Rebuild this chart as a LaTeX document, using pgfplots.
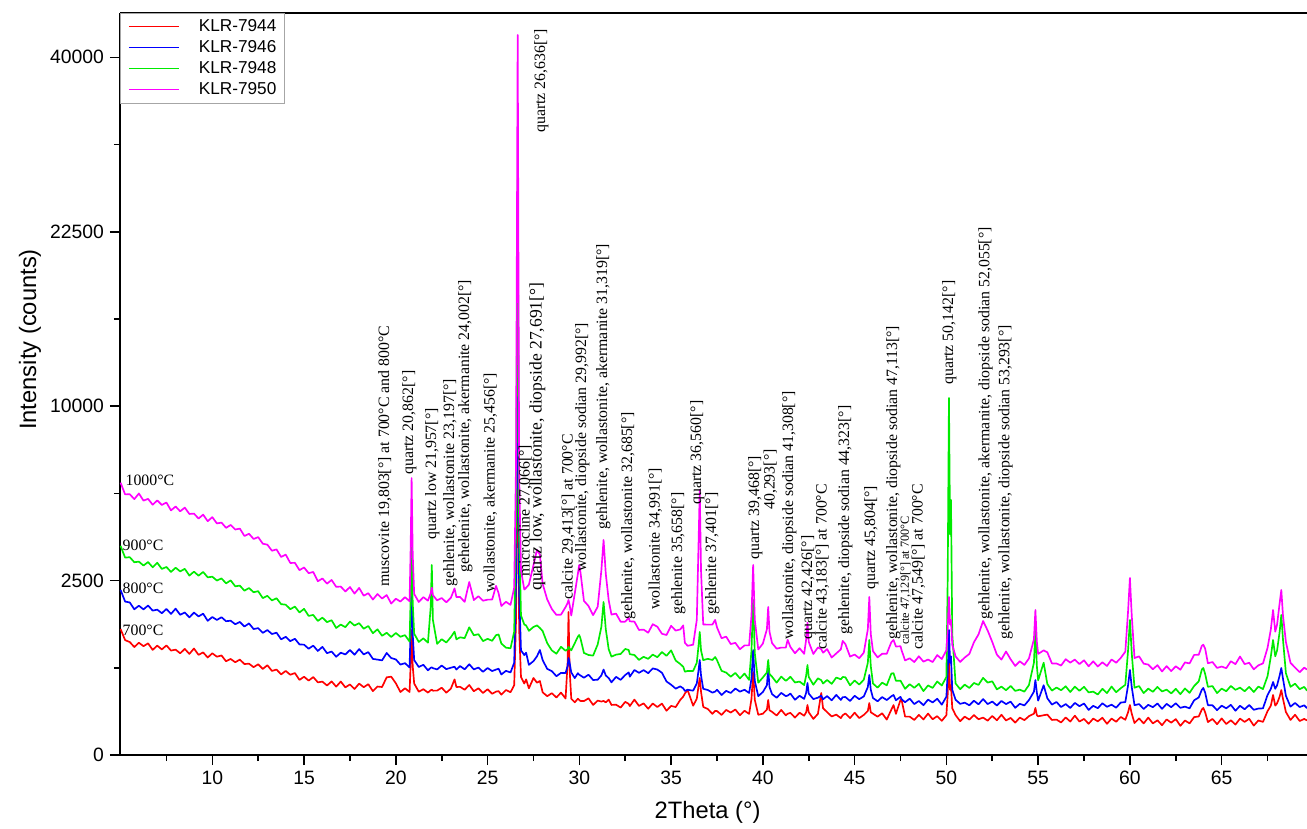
\documentclass[border=0pt]{standalone}
\usepackage{fontspec}
\setmainfont{Liberation Sans}
\newfontfamily\annfont{Liberation Serif}
\usepackage{pgfplots}
\usepackage{pgfplotstable}
\pgfplotsset{compat=1.18}
\pgfplotsset{legend image code/.code={\draw[#1, line width=0.6pt] (0mm,0mm) -- (10mm,0mm); \path (13.8mm,0mm);}}
\definecolor{xgreen}{RGB}{0,235,0}
\definecolor{xmag}{RGB}{255,0,255}

\pgfplotstableread{
x r b g m
5.00 1304 2240 3596 6095
5.25 1084 1934 3200 5580
5.50 1049 1913 3216 5590
5.75 958 1745 3054 5380
6.00 1036 1832 3072 5620
6.25 973 1742 2950 5318
6.50 1024 1836 3059 5390
6.75 908 1714 2897 5148
7.00 983 1736 3036 5325
7.25 916 1652 2845 5139
7.50 987 1752 2905 5238
7.75 896 1636 2754 4916
8.00 912 1760 2883 5075
8.25 850 1615 2770 4880
8.50 925 1670 2848 5030
8.75 839 1556 2645 4774
9.00 932 1667 2763 4789
9.25 824 1578 2643 4595
9.50 865 1641 2754 4747
9.75 781 1480 2594 4493
10.00 850 1565 2612 4649
10.25 794 1498 2501 4406
10.50 814 1560 2563 4439
10.75 722 1471 2421 4240
11.00 758 1482 2506 4349
11.25 707 1405 2338 4177
11.50 748 1455 2358 4213
11.75 680 1357 2219 3942
12.00 685 1423 2291 4022
12.25 634 1304 2177 3835
12.50 676 1323 2205 3901
12.75 609 1226 2024 3669
13.00 662 1283 2082 3636
13.25 581 1203 1964 3428
13.50 600 1229 2019 3474
13.75 534 1100 1870 3222
14.00 581 1147 1857 3300
14.25 529 1065 1747 3030
14.50 552 1110 1810 3035
14.75 464 1005 1670 2808
15.00 503 1000 1755 2890
15.25 455 928 1590 2717
15.50 499 983 1612 2753
15.75 434 890 1477 2481
16.00 442 961 1551 2561
16.25 397 852 1451 2413
16.50 445 880 1493 2518
16.75 384 793 1326 2325
17.00 443 860 1398 2331
17.25 376 831 1343 2198
17.50 409 906 1462 2318
17.75 358 826 1377 2141
18.00 419 922 1428 2294
18.25 378 832 1311 2085
18.50 412 870 1367 2151
18.75 335 759 1219 1986
19.00 385 748 1298 2129
19.25 380 736 1168 2011
19.50 496 855 1227 2102
19.75 504 772 1145 1884
20.00 423 751 1223 2007
20.25 326 672 1149 1935
20.50 366 693 1180 2047
20.75 326 630 1057 1943
20.81 700 1400 2100 3600
20.86 1284 2575 3800 6305
20.92 650 1200 1900 3300
21.00 420 740 1210 2130
21.25 329 636 1050 1924
21.50 356 669 1118 2048
21.75 320 589 1037 1957
21.90 345 625 1800 2150
21.96 350 630 2967 2300
22.02 340 620 1500 2100
22.25 341 602 1015 1965
22.50 372 658 1102 2024
22.75 319 606 1040 1916
23.00 362 626 1142 2031
23.20 470 640 1250 2280
23.30 380 600 1100 2050
23.50 382 650 1138 2052
23.75 350 603 1122 1927
24.00 403 677 1340 2460
24.25 334 602 1178 1973
24.50 366 628 1199 2072
24.75 316 569 1066 1956
25.00 356 622 1109 1983
25.25 308 579 1072 1986
25.46 330 600 1180 2350
25.60 335 612 1194 2148
25.75 299 533 1021 1824
26.00 347 582 947 1929
26.25 324 560 936 1852
26.45 400 700 1250 2300
26.55 1500 2500 4500 7000
26.64 9220 14840 27190 42600
26.72 1300 2200 4000 6500
26.82 500 900 1600 2800
27.00 420 820 1400 2250
27.10 470 860 1380 2300
27.25 365 668 1267 2384
27.50 487 724 1347 2964
27.69 430 800 1380 3454
27.85 450 906 1326 3300
28.00 323 740 1262 2407
28.25 284 609 1028 1988
28.50 314 578 899 1752
28.75 272 510 843 1613
29.00 320 554 963 1619
29.25 262 552 892 1800
29.36 700 650 920 1900
29.41 1680 773 960 1975
29.47 600 700 930 1850
29.56 260 560 900 1600
29.75 228 486 1028 2144
29.92 260 550 1150 2700
29.99 249 530 1184 2967
30.06 240 520 1120 2750
30.25 239 490 856 1952
30.50 264 530 822 1824
30.75 206 462 812 1608
31.00 243 466 1005 1806
31.20 235 520 1350 2800
31.32 240 600 1924 3800
31.44 228 520 1300 2700
31.60 252 486 917 1964
31.75 206 434 795 1620
32.00 208 502 828 1643
32.25 185 464 839 1460
32.50 232 526 924 1461
32.69 215 560 906 1550
32.75 197 504 835 1468
33.00 252 594 822 1462
33.25 198 555 743 1285
33.50 219 592 792 1292
33.75 176 550 760 1229
34.00 218 616 828 1406
34.25 189 600 786 1352
34.50 217 556 871 1208
34.75 161 444 808 1183
35.00 198 406 900 1372
35.25 189 362 733 1272
35.50 250 387 680 1296
35.66 280 365 640 1380
35.75 311 337 570 1035
35.90 347 350 580 980
36.20 200 340 580 1000
36.40 260 420 700 1500
36.50 400 600 1000 3800
36.56 487 742 1244 5772
36.63 330 520 900 2800
36.75 190 360 740 1400
37.00 174 347 760 1396
37.25 139 320 742 1398
37.40 160 330 789 1500
37.50 159 350 740 1339
37.75 132 296 582 1120
38.00 167 338 558 1152
38.25 148 316 504 1011
38.50 170 363 554 1034
38.75 130 330 482 919
39.00 161 350 545 987
39.25 139 316 463 987
39.38 260 480 900 1600
39.47 566 906 1975 2967
39.56 250 450 850 1500
39.75 133 285 430 915
40.00 140 326 494 1020
40.22 170 400 560 1300
40.29 249 622 742 1800
40.36 165 380 540 1250
40.50 153 305 504 1029
40.75 128 269 430 929
41.00 167 317 505 948
41.25 129 285 452 948
41.35 140 290 470 1090
41.50 146 310 503 959
41.75 115 251 432 851
42.00 147 288 443 937
42.25 127 259 402 841
42.36 150 320 520 1100
42.43 205 426 666 1440
42.50 150 310 500 1050
42.75 107 257 406 839
43.00 139 270 483 951
43.18 316 290 460 920
43.28 180 255 420 860
43.50 151 285 463 922
43.75 122 246 416 781
44.00 134 297 493 848
44.25 112 249 471 918
44.35 130 275 500 1070
44.50 142 276 496 1008
44.75 112 240 399 796
45.00 147 288 456 829
45.25 112 256 408 770
45.50 132 282 466 861
45.72 160 380 700 1300
45.80 222 526 1087 2052
45.88 150 350 650 1200
46.00 140 267 420 887
46.25 121 237 373 783
46.50 143 276 430 842
46.75 103 248 399 842
47.00 169 283 545 1046
47.12 205 296 550 1087
47.25 139 246 453 967
47.50 250 278 454 972
47.56 249 255 430 900
47.75 121 229 360 735
48.00 121 261 412 768
48.25 101 213 371 710
48.50 132 240 416 801
48.75 104 204 335 716
49.00 141 252 398 749
49.25 105 227 370 710
49.50 124 260 444 821
49.75 96 208 397 757
50.00 130 280 500 900
50.07 300 550 2500 1300
50.14 742 1284 10480 2052
50.20 350 700 4000 1400
50.25 400 800 5345 1500
50.32 180 350 1200 1000
50.50 131 251 421 799
50.75 94 215 356 712
51.00 121 225 407 781
51.25 103 203 369 839
51.50 131 242 426 1044
51.75 105 211 404 1195
52.00 115 257 489 1476
52.25 97 213 431 1272
52.50 125 235 446 1050
52.75 99 201 354 828
53.00 133 240 384 748
53.25 98 213 345 880
53.50 113 234 392 753
53.75 86 183 338 652
54.00 115 215 351 721
54.25 100 202 330 667
54.50 124 248 403 767
54.77 140 330 700 1100
54.85 182 462 1284 1728
54.93 130 320 650 1050
55.00 123 243 458 839
55.30 130 400 700 900
55.50 134 265 414 866
55.75 101 209 341 689
56.00 103 231 374 688
56.25 87 189 345 658
56.50 116 213 388 754
56.75 92 182 326 701
57.00 127 223 384 748
57.25 92 196 339 679
57.50 107 218 382 737
57.75 80 167 322 647
58.00 109 199 330 721
58.25 93 180 301 644
58.50 114 220 360 706
58.75 80 191 315 651
59.00 109 208 385 750
59.25 91 184 324 700
59.50 119 226 366 774
59.75 102 230 405 878
59.90 150 400 900 1700
60.00 205 594 1498 2575
60.10 140 380 850 1600
60.25 84 204 372 772
60.50 110 213 390 800
60.75 82 174 315 686
61.00 115 207 362 672
61.25 82 188 328 604
61.50 99 218 381 663
61.75 73 175 332 574
62.00 104 215 351 649
62.25 86 188 312 579
62.50 106 220 360 647
62.75 70 183 304 598
63.00 98 192 364 705
63.25 82 179 317 689
63.50 118 246 391 824
63.75 122 272 446 825
63.92 170 350 600 980
64.00 182 369 622 1000
64.10 150 320 540 930
64.25 89 204 382 692
64.50 107 203 390 710
64.75 78 165 315 623
65.00 110 200 362 643
65.25 79 179 334 619
65.50 99 207 392 723
65.75 76 161 349 678
66.00 109 199 373 797
66.25 90 172 334 679
66.50 108 205 381 699
66.75 71 168 326 603
67.00 98 177 385 661
67.25 90 179 357 689
67.50 158 296 511 944
67.68 200 360 800 1300
67.80 296 438 1087 1728
67.92 200 360 800 1250
68.02 220 400 900 1400
68.16 280 520 1250 1900
68.25 347 622 1611 2238
68.34 260 480 1100 1600
68.50 152 288 550 1050
68.75 101 192 382 698
69.00 133 223 418 628
69.25 95 189 356 564
69.50 107 203 381 627
69.65 98 180 340 600
}\xrd

\begin{document}
\begin{tikzpicture}
\begin{axis}[
  at={(0,0)}, anchor=south west,
  scale only axis, width=237.4mm, height=148.4mm,
  xmin=4.97, xmax=69.65, ymin=0, ymax=212.7,
  axis lines=left, axis line style={-, line width=1.1pt},
  clip=false, no markers,
  xtick={10,15,20,25,30,35,40,45,50,55,60,65},
  xticklabels={10,15,20,25,30,35,40,45,50,55,60,65},
  minor xtick={7.5,12.5,17.5,22.5,27.5,32.5,37.5,42.5,47.5,52.5,57.5,62.5,67.5},
  ytick={0,50,100,150,200}, yticklabels={0,2500,10000,22500,40000},
  minor ytick={25,75,125,175},
  tick align=outside, major tick length=2mm, minor tick length=1.2mm,
  tick style={line width=0.9pt, black},
  tick label style={font=\fontsize{11}{13}\selectfont},
  xlabel={2Theta (°)}, ylabel={Intensity (counts)},
  label style={font=\fontsize{13.5}{16}\selectfont},
  xlabel style={at={(axis description cs:0.495,-0.0768)}, anchor=center},
  ylabel style={at={(axis description cs:-0.0758,0.56)}, anchor=center},
  legend style={at={(0,1)}, anchor=north west, draw=black!35, line width=0.5pt, fill=white,
    inner xsep=1.6mm, inner ysep=1.1mm, font=\fontsize{9.8}{12}\selectfont,
    nodes={inner sep=0pt, text height=7.2pt, text depth=1.5pt}, row sep=3.3pt},
  legend cell align=left,
]
\addplot[red, line width=0.95pt, line join=round] table[x=x, y expr={sqrt(\thisrow{r})}] {\xrd};
\addlegendentry{KLR-7944}
\addplot[blue, line width=0.95pt, line join=round] table[x=x, y expr={sqrt(\thisrow{b})}] {\xrd};
\addlegendentry{KLR-7946}
\addplot[xgreen, line width=0.95pt, line join=round] table[x=x, y expr={sqrt(\thisrow{g})}] {\xrd};
\addlegendentry{KLR-7948}
\addplot[xmag, line width=0.95pt, line join=round] table[x=x, y expr={sqrt(\thisrow{m})}] {\xrd};
\addlegendentry{KLR-7950}

\draw[line width=1.1pt] (rel axis cs:0,1) -- (rel axis cs:1,1);

\node[anchor=west, inner sep=0pt, font=\annfont\fontsize{9}{10}\selectfont] at (axis cs:5.26,78.8) {1000°C};
\node[anchor=west, inner sep=0pt, font=\annfont\fontsize{9}{10}\selectfont] at (axis cs:5.1,60.2) {900°C};
\node[anchor=west, inner sep=0pt, font=\annfont\fontsize{9}{10}\selectfont] at (axis cs:5.1,47.9) {800°C};
\node[anchor=west, inner sep=0pt, font=\annfont\fontsize{9}{10}\selectfont] at (axis cs:5.1,35.6) {700°C};

\begin{scope}[every node/.style={rotate=90, anchor=west, inner sep=0pt, font=\annfont\fontsize{9}{10}\selectfont}]
\node at (axis cs:19.4,48.2) {muscovite 19,803[°] at 700°C and 800°C};
\node at (axis cs:20.74,80.3) {quartz 20,862[°]};
\node at (axis cs:21.99,61.6) {quartz low 21,957[°]};
\node at (axis cs:22.97,48.2) {gehlenite, wollastonite 23,197[°]};
\node at (axis cs:23.79,52.2) {gehelenite, wollastonite, akermanite 24,002[°]};
\node at (axis cs:25.15,46.4) {wollastonite, akermanite 25,456[°]};
\node at (axis cs:27.06,51.0) {microcline 27,066[°]};
\node at (axis cs:27.93,178.3) {quartz 26,636[°]};
\node[font=\annfont\fontsize{10}{11}\selectfont] at (axis cs:27.72,47.0) {quartz low, wollastonite, diopside 27,691[°]};
\node at (axis cs:29.40,44.4) {calcite 29,413[°] at 700°C};
\node at (axis cs:30.16,52.5) {wollastonite, diopside sodian 29,992[°]};
\node at (axis cs:31.31,64.5) {gehlenite, wollastonite, akermanite 31,319[°]};
\node at (axis cs:32.67,38.7) {gehlenite, wollastonite 32,685[°]};
\node at (axis cs:34.14,41.6) {wollastonite 34,991[°]};
\node at (axis cs:35.40,40.1) {gehlenite 35,658[°]};
\node at (axis cs:36.43,71.7) {quartz 36,560[°]};
\node at (axis cs:37.25,40.1) {gehlenite 37,401[°]};
\node at (axis cs:39.59,55.9) {quartz 39,468[°]};
\node at (axis cs:40.41,70.2) {40,293[°]};
\node at (axis cs:41.44,33.0) {wollastonite, diopside sodian 41,308[°]};
\node at (axis cs:42.48,33.0) {quartz 42,426[°]};
\node at (axis cs:43.24,30.1) {calcite 43,183[°] at 700°C};
\node at (axis cs:44.50,34.4) {gehlenite, diopside sodian 44,323[°]};
\node at (axis cs:45.91,47.3) {quartz 45,804[°]};
\node at (axis cs:47.11,33.0) {gehlenite, wollastonite, diopside sodian 47,113[°]};
\node[font=\annfont\fontsize{7}{8}\selectfont] at (axis cs:47.77,31.5) {calcite 47,129[°] at 700°C};
\node at (axis cs:48.47,30.1) {calcite 47,549[°] at 700°C};
\node at (axis cs:50.16,106.1) {quartz 50,142[°]};
\node at (axis cs:52.13,38.7) {gehlenite, wollastonite, akermanite, diopside sodian 52,055[°]};
\node at (axis cs:53.22,33.0) {gehlenite, wollastonite, diopside sodian 53,293[°]};
\end{scope}
\end{axis}
\pgfresetboundingbox
\path[use as bounding box] (-24mm,-14.6mm) rectangle (237.4mm,151mm);
\end{tikzpicture}
\end{document}
